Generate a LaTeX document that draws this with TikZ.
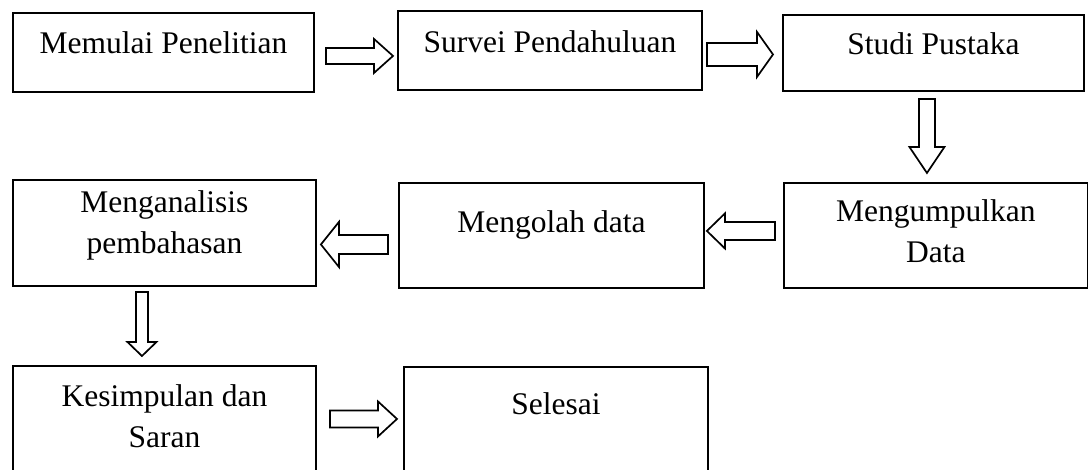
\documentclass[tikz,border=0pt]{standalone}
\usepackage{fontspec}
\setmainfont{Liberation Serif}
\usetikzlibrary{calc}
\tikzset{
  box/.style={draw, line width=1.9pt, anchor=north west, inner sep=0pt},
  txt/.style={anchor=base, align=center, inner sep=0pt, font=\fontsize{31.5}{41}\selectfont},
  blockarr/.style={draw, line width=1.7pt, fill=white, line join=miter}
}
% #1 start, #2 tip, #3 shaft half width, #4 head half width, #5 head length
\newcommand\blockarrow[5]{%
  \coordinate (ba-h) at ($(#2)!#5!(#1)$);
  \draw[blockarr] ($(#1)!#3!90:(#2)$) -- ($(ba-h)!#3!90:(#2)$) -- ($(ba-h)!#4!90:(#2)$)
    -- (#2) -- ($(ba-h)!#4!-90:(#2)$) -- ($(ba-h)!#3!-90:(#2)$) -- ($(#1)!#3!-90:(#2)$) -- cycle;}
\begin{document}
\begin{tikzpicture}[x=1pt,y=-1pt]
\useasboundingbox (0,0) rectangle (1088,469);
% boxes
\node[box, minimum width=301pt, minimum height=79pt] (b1) at (12,12) {};
\node[box, minimum width=304pt, minimum height=79pt] (b2) at (397,10) {};
\node[box, minimum width=301pt, minimum height=76pt] (b3) at (782,14) {};
\node[box, minimum width=304pt, minimum height=105pt] (b4) at (783,182) {};
\node[box, minimum width=305pt, minimum height=105pt] (b5) at (398,182) {};
\node[box, minimum width=303pt, minimum height=106pt] (b6) at (12,179) {};
\node[box, minimum width=303pt, minimum height=110pt] (b7) at (12,365) {};
\node[box, minimum width=304pt, minimum height=110pt] (b8) at (403,366) {};
% texts (base anchor = baseline of the last line)
\node[txt] (t1) at ($(b1.north)+(0,41)$) {Memulai Penelitian};
\node[txt] (t2) at ($(b2.north)+(0,42)$) {Survei Pendahuluan};
\node[txt] (t3) at ($(b3.north)+(0,40)$) {Studi Pustaka};
\node[txt] (t4) at ($(b4.north)+(0,80)$) {Mengumpulkan\\Data};
\node[txt] (t5) at ($(b5.north)+(0,50)$) {Mengolah data};
\node[txt] (t6) at ($(b6.north)+(0,74)$) {Menganalisis\\pembahasan};
\node[txt] (t7) at ($(b7.north)+(0,82)$) {Kesimpulan dan\\Saran};
\node[txt] (t8) at ($(b8.north)+(0,48)$) {Selesai};
% arrow end points
\coordinate (a1s) at ($(b1.east)+(11,3.5)$);
\coordinate (a1e) at ($(b2.west)+(-4,5.5)$);
\coordinate (a2s) at ($(b2.east)+(4,4)$);
\coordinate (a2e) at ($(b3.west)+(-9,1.5)$);
\coordinate (a3s) at ($(b3.south)+(-6.5,7)$);
\coordinate (a3e) at ($(b4.north)+(-9,-9)$);
\coordinate (a4s) at ($(b4.west)+(-8,-4.5)$);
\coordinate (a4e) at ($(b5.east)+(2,-4.5)$);
\coordinate (a5s) at ($(b5.west)+(-10,9)$);
\coordinate (a5e) at ($(b6.east)+(4,11.5)$);
\coordinate (a6s) at ($(b6.south)+(-22.5,5)$);
\coordinate (a6e) at ($(b7.north)+(-22.5,-9)$);
\coordinate (a7s) at ($(b7.east)+(13,-2)$);
\coordinate (a7e) at ($(b8.west)+(-6,-3)$);
% block arrows
\blockarrow{a1s}{a1e}{8pt}{17pt}{19pt}
\blockarrow{a2s}{a2e}{11.5pt}{22.5pt}{16pt}
\blockarrow{a3s}{a3e}{8pt}{17.5pt}{26pt}
\blockarrow{a4s}{a4e}{9pt}{17.5pt}{18pt}
\blockarrow{a5s}{a5e}{9.5pt}{22.5pt}{18pt}
\blockarrow{a6s}{a6e}{6pt}{14.5pt}{14pt}
\blockarrow{a7s}{a7e}{8.5pt}{17.5pt}{19pt}
\end{tikzpicture}
\end{document}
